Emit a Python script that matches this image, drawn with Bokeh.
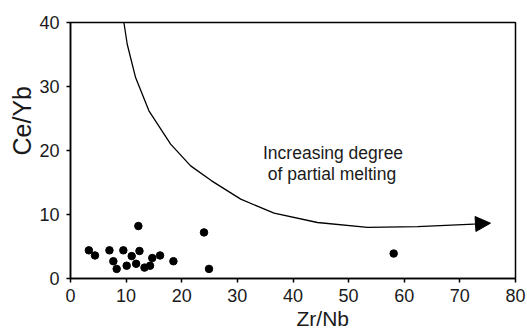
from bokeh.plotting import figure
from bokeh.models import Range1d, FixedTicker, Label, Arrow, NormalHead, Title
from bokeh.embed import file_html
from bokeh.resources import INLINE

# Sample data: Zr/Nb vs Ce/Yb
zr_nb = [3.3, 4.4, 7.0, 7.7, 8.3, 9.5, 10.1, 11.0, 11.8, 12.2, 12.4, 13.3, 14.3, 14.7, 16.1, 18.5, 24.0, 24.9, 58.1]
ce_yb = [4.4, 3.6, 4.4, 2.7, 1.5, 4.4, 2.0, 3.5, 2.3, 8.2, 4.3, 1.7, 2.0, 3.2, 3.6, 2.7, 7.2, 1.5, 3.9]

# Partial-melting trend curve
curve_x = [9.6, 10.2, 11.7, 14.1, 18.0, 21.6, 25.3, 30.6, 36.6, 44.4, 53.4, 62.4, 72.5]
curve_y = [40.0, 36.6, 31.4, 26.2, 21.0, 17.6, 15.3, 12.4, 10.2, 8.75, 8.0, 8.1, 8.5]
arrow_tip = (75.5, 8.65)

x_ticks = [0, 10, 20, 30, 40, 50, 60, 70, 80]
y_ticks = [0, 10, 20, 30, 40]

FONT = "Liberation Sans"
TXT = "#1a1a1a"

p = figure(width=527, height=329, output_backend="svg", toolbar_location=None,
           x_range=Range1d(0, 80), y_range=Range1d(0, 40),
           min_border_left=70, min_border_right=12, min_border_top=22, min_border_bottom=51)

p.xgrid.visible = False
p.ygrid.visible = False
p.outline_line_color = "black"
p.outline_line_width = 1.5
p.background_fill_color = "white"
p.border_fill_color = "white"

for ax, ticks in ((p.xaxis, x_ticks), (p.yaxis, y_ticks)):
    ax.ticker = FixedTicker(ticks=ticks)
    ax.minor_tick_line_color = None
    ax.major_tick_in = 0
    ax.major_tick_out = 4
    ax.major_tick_line_width = 1.5
    ax.axis_line_width = 1.5
    ax.axis_line_color = "black"
    ax.major_tick_line_color = "black"
    ax.major_label_text_font = FONT
    ax.major_label_text_font_size = "18px"
    ax.major_label_text_color = TXT
p.xaxis.major_label_standoff = 6
p.yaxis.major_label_standoff = 7

# Curve and arrow
p.line(curve_x, curve_y, line_color="black", line_width=1.3)
p.add_layout(Arrow(end=NormalHead(size=15, fill_color="black", line_color="black"),
                   x_start=curve_x[-1], y_start=curve_y[-1],
                   x_end=arrow_tip[0], y_end=arrow_tip[1],
                   line_color="black", line_width=1.3))

# Points
p.scatter(zr_nb, ce_yb, size=7.5, marker="circle", fill_color="black", line_color="black")

# Annotation text
p.add_layout(Label(x=47.2, y=19.6, text="Increasing degree", text_align="center",
                   text_baseline="alphabetic", text_font=FONT, text_font_size="17.5px",
                   text_color=TXT))
p.add_layout(Label(x=47.0, y=16.4, text="of partial melting", text_align="center",
                   text_baseline="alphabetic", text_font=FONT, text_font_size="17.5px",
                   text_color=TXT))

# Axis titles
p.add_layout(Title(text="Zr/Nb", align="left", offset=226, standoff=0,
                   text_font=FONT, text_font_size="21px", text_font_style="normal",
                   text_color=TXT), "below")
p.add_layout(Title(text="Ce/Yb", align="left", offset=123, standoff=2,
                   text_font=FONT, text_font_size="25px", text_font_style="normal",
                   text_color=TXT), "left")

open("out.html", "w").write(file_html(p, INLINE))
